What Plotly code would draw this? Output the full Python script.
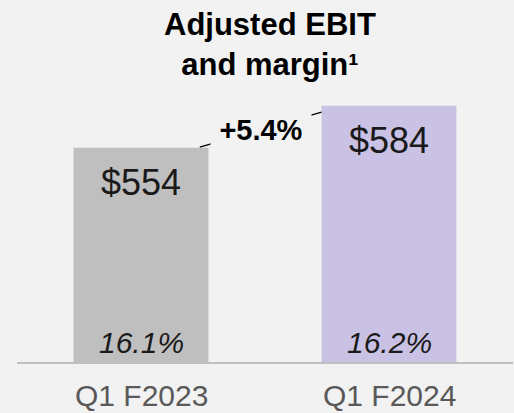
import plotly.graph_objects as go

categories = ["Q1 F2023", "Q1 F2024"]
ebit = [554, 584]
margins = [16.1, 16.2]
bar_colors = ["#bfbfbf", "#c9c2e4"]

FONT = "Liberation Sans, Arial, sans-serif"
BG = "#f2f2f2"
BW = 0.544
Y0, Y1 = 401, 652.5

x = list(range(len(categories)))
fig = go.Figure()
fig.add_trace(go.Bar(x=x, y=ebit, base=0, width=BW, marker=dict(color=bar_colors, line=dict(width=0)),
                     hoverinfo="skip"))

# connector line between the bar tops
fig.add_trace(go.Scatter(x=[x[0] + BW / 2 - 0.035, x[1] - BW / 2],
                         y=[ebit[0] + 0.5, ebit[1] - 4.5],
                         mode="lines", line=dict(color="#000000", width=1.3), hoverinfo="skip"))

growth = (ebit[1] / ebit[0] - 1) * 100
fig.add_annotation(x=(x[0] + BW / 2 - 0.035 + x[1] - BW / 2) / 2,
                   y=(ebit[0] + ebit[1] - 4) / 2,
                   text=f"<b>+{growth:.1f}%</b>", showarrow=False,
                   font=dict(family=FONT, size=29, color="#000000"),
                   bgcolor=BG, width=100, height=40, borderpad=0,
                   xanchor="center", yanchor="middle")

for xi, v, m, c in zip(x, ebit, margins, categories):
    fig.add_annotation(x=xi, y=v, text=f"${v}", showarrow=False, yanchor="top", yshift=-12,
                       font=dict(family=FONT, size=36, color="#1a1a1a"))
    fig.add_annotation(x=xi, y=Y0, text=f"<i>{m:.1f}%</i>", showarrow=False, yanchor="bottom", yshift=1,
                       font=dict(family=FONT, size=30, color="#1a1a1a"))
    fig.add_annotation(x=xi, y=0, yref="paper", text=c, showarrow=False, yanchor="bottom", yshift=-51,
                       font=dict(family=FONT, size=30, color="#595959"), borderpad=0)

# chart title
fig.add_annotation(xref="paper", yref="paper", x=0.51, y=1, yshift=5, xanchor="center", yanchor="top",
                   text="<b>Adjusted EBIT<br>and margin¹</b>", showarrow=False,
                   font=dict(family=FONT, size=31, color="#000000"))

fig.update_layout(
    width=514, height=413,
    margin=dict(l=17, r=1, t=10, b=51),
    paper_bgcolor=BG, plot_bgcolor=BG,
    showlegend=False,
    xaxis=dict(range=[-0.5, 1.5], tickvals=x, showticklabels=False, showline=True,
               linecolor="#bfbfbf", linewidth=2, showgrid=False, zeroline=False, ticks=""),
    yaxis=dict(range=[Y0, Y1], visible=False, showgrid=False, zeroline=False),
)

fig.write_html("out.html")
